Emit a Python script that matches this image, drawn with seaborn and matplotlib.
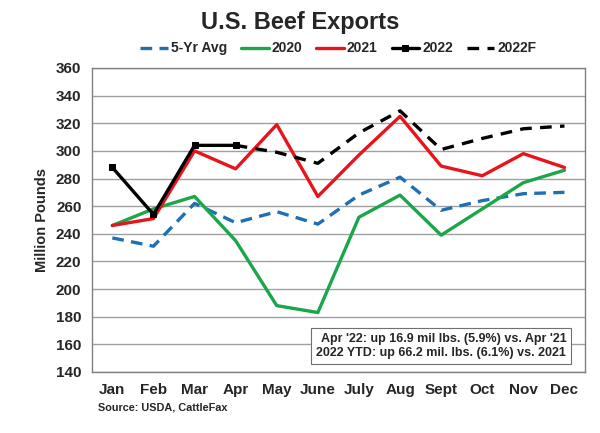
import matplotlib
matplotlib.use("Agg")
import matplotlib.pyplot as plt
import seaborn as sns
import numpy as np

# --- Data (million pounds) ---
MONTHS = ['Jan', 'Feb', 'Mar', 'Apr', 'May', 'June', 'July', 'Aug', 'Sept', 'Oct', 'Nov', 'Dec']
AVG_5YR = [237, 231, 262, 248, 256, 247, 268, 281, 257, 264, 269, 270]
Y2020 = [246, 258, 267, 235, 188, 183, 252, 268, 239, 258, 277, 286]
Y2021 = [246, 251, 300, 287, 319, 267, 297, 325, 289, 282, 298, 288]
Y2022_MONTHS = ['Jan', 'Feb', 'Mar', 'Apr']
Y2022 = [288, 254, 304, 304]
F2022_MONTHS = ['Apr', 'May', 'June', 'July', 'Aug', 'Sept', 'Oct', 'Nov', 'Dec']
F2022 = [304, 299, 291, 313, 329, 301, 309, 316, 318]

sns.set_style("white")
plt.rcParams['font.family'] = ['Liberation Sans', 'DejaVu Sans']

fig = plt.figure(figsize=(6, 4.33), dpi=100)
ax = fig.add_axes([0.153, 0.141, 0.822, 0.702])

lw = 2.4
x_all = np.arange(len(MONTHS))
x22 = [MONTHS.index(m) for m in Y2022_MONTHS]
xf = [MONTHS.index(m) for m in F2022_MONTHS]

sns.lineplot(x=x_all, y=AVG_5YR, ax=ax, color='#1f6fb5', lw=lw, label='5-Yr Avg')
ax.lines[-1].set_dashes([3.5, 2.2])
sns.lineplot(x=x_all, y=Y2020, ax=ax, color='#1aa64a', lw=lw, label='2020')
sns.lineplot(x=x_all, y=Y2021, ax=ax, color='#e8141b', lw=lw, label='2021')
sns.lineplot(x=xf, y=F2022, ax=ax, color='black', lw=lw, label='2022F')
ax.lines[-1].set_dashes([3.5, 2.5])
sns.lineplot(x=x22, y=Y2022, ax=ax, color='black', lw=lw, marker='s',
             markersize=5, markeredgecolor='black', label='2022')

ax.set_ylim(140, 360)
ax.set_xlim(-0.5, 11.5)
ax.set_yticks(np.arange(140, 361, 20))
ax.set_xticks(x_all)
ax.set_xticklabels(MONTHS)
ax.set_xticks(np.arange(-0.5, 12, 1), minor=True)
ax.tick_params(axis='x', which='major', length=0, pad=8, labelsize=11)
ax.tick_params(axis='x', which='minor', length=4, direction='inout', color='#808080')
ax.tick_params(axis='y', length=4, color='#808080', labelsize=11)
for lbl in ax.get_xticklabels() + ax.get_yticklabels():
    lbl.set_fontweight('bold')

ax.grid(axis='y', color='#a0a0a0', lw=1)
ax.set_axisbelow(True)
for s in ax.spines.values():
    s.set_color('#808080')
    s.set_linewidth(1)

ax.set_ylabel('Million Pounds', fontsize=10.5, fontweight='bold', labelpad=5)
ax.set_xlabel('')

# legend order as in reference
handles, labels = ax.get_legend_handles_labels()
order = ['5-Yr Avg', '2020', '2021', '2022', '2022F']
hmap = dict(zip(labels, handles))
ax.legend([hmap[k] for k in order], order, loc='lower center',
          bbox_to_anchor=(0.5, 1.0), ncol=5, frameon=False,
          prop={'weight': 'bold', 'size': 10}, handlelength=2.0,
          handletextpad=0.2, columnspacing=1.0, borderaxespad=0.5)

fig.text(0.5, 0.975, 'U.S. Beef Exports', ha='center', va='top',
         fontsize=17, fontweight='bold')

ax.text(0.962, 0.042, "Apr '22: up 16.9 mil lbs. (5.9%) vs. Apr '21\n"
        "2022 YTD: up 66.2 mil. lbs. (6.1%) vs. 2021",
        transform=ax.transAxes, ha='right', va='bottom', fontsize=9,
        fontweight='bold', linespacing=1.25,
        bbox=dict(boxstyle='square,pad=0.4', fc='white', ec='#707070', lw=0.8))

fig.text(0.163, 0.052, 'Source: USDA, CattleFax', fontsize=7.8, fontweight='bold')

fig.savefig('out.png', dpi=100)
